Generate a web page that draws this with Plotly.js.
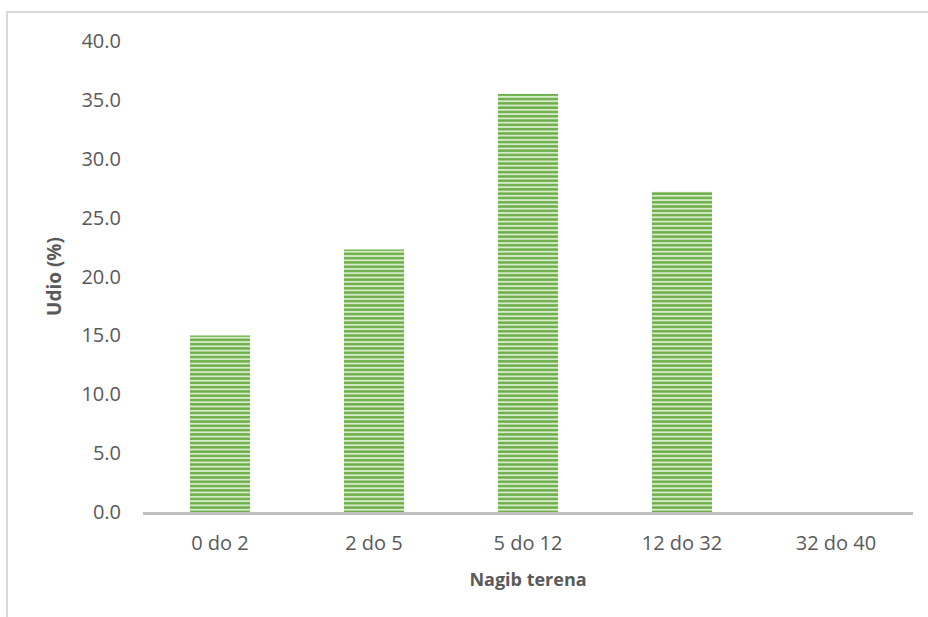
<!DOCTYPE html>
<html>
<head>
<meta charset="utf-8">
<script src="https://cdn.plot.ly/plotly-3.0.1.min.js"></script>
<style>
  html, body { margin: 0; padding: 0; background: #fff; }
  #wrap { position: relative; width: 928px; height: 617px; overflow: hidden; }
  #chart { position: absolute; left: 0; top: 0; width: 928px; height: 617px; }
  #frame { position: absolute; left: 6px; top: 11px; width: 940px; height: 640px;
           border-left: 2px solid #d9d9d9; border-top: 2px solid #d9d9d9; pointer-events: none; }
</style>
</head>
<body>
<div id="wrap">
  <div id="chart"></div>
  <div id="frame"></div>
</div>
<script>
const categories = ["0 do 2", "2 do 5", "5 do 12", "12 do 32", "32 do 40"];
const shares = [15.0, 22.3, 35.5, 27.2, 0.0];
const yTickVals = [0, 5, 10, 15, 20, 25, 30, 35, 40];
const yTickText = ["0.0", "5.0", "10.0", "15.0", "20.0", "25.0", "30.0", "35.0", "40.0"];
const xTitle = "Nagib terena";
const yTitle = "Udio (%)";

const fontFam = "Open Sans, Noto Sans, sans-serif";

const trace = {
  type: "bar",
  x: categories,
  y: shares,
  marker: {
    color: "#6fb04a",
    line: { width: 0 },
    pattern: { shape: "-", fgcolor: "#6aae45", bgcolor: "#d6ebc9", size: 4.3, solidity: 0.55 }
  },
  hoverinfo: "x+y"
};

const layout = {
  width: 928,
  height: 617,
  margin: { l: 143, r: 15, t: 41, b: 105 },
  paper_bgcolor: "#ffffff",
  plot_bgcolor: "#ffffff",
  bargap: 0.61,
  showlegend: false,
  xaxis: {
    type: "category",
    showline: true,
    linecolor: "#bfbfbf",
    linewidth: 3,
    showgrid: false,
    zeroline: false,
    ticks: "",
    ticklabelstandoff: 11,
    tickfont: { family: fontFam, size: 20, color: "#595959" },
    title: { text: "<b>" + xTitle + "</b>", standoff: 19, font: { family: fontFam, size: 18, color: "#595959" } },
    automargin: false
  },
  yaxis: {
    range: [0, 40],
    tickvals: yTickVals,
    ticktext: yTickText,
    showline: false,
    showgrid: false,
    zeroline: false,
    ticks: "",
    ticklabelstandoff: 21,
    tickfont: { family: fontFam, size: 20, color: "#595959" },
    title: { text: "<b>" + yTitle + "</b>", standoff: 14, font: { family: fontFam, size: 19, color: "#595959" } },
    automargin: false
  }
};

Plotly.newPlot("chart", [trace], layout, { displayModeBar: false, staticPlot: true });
</script>
</body>
</html>
